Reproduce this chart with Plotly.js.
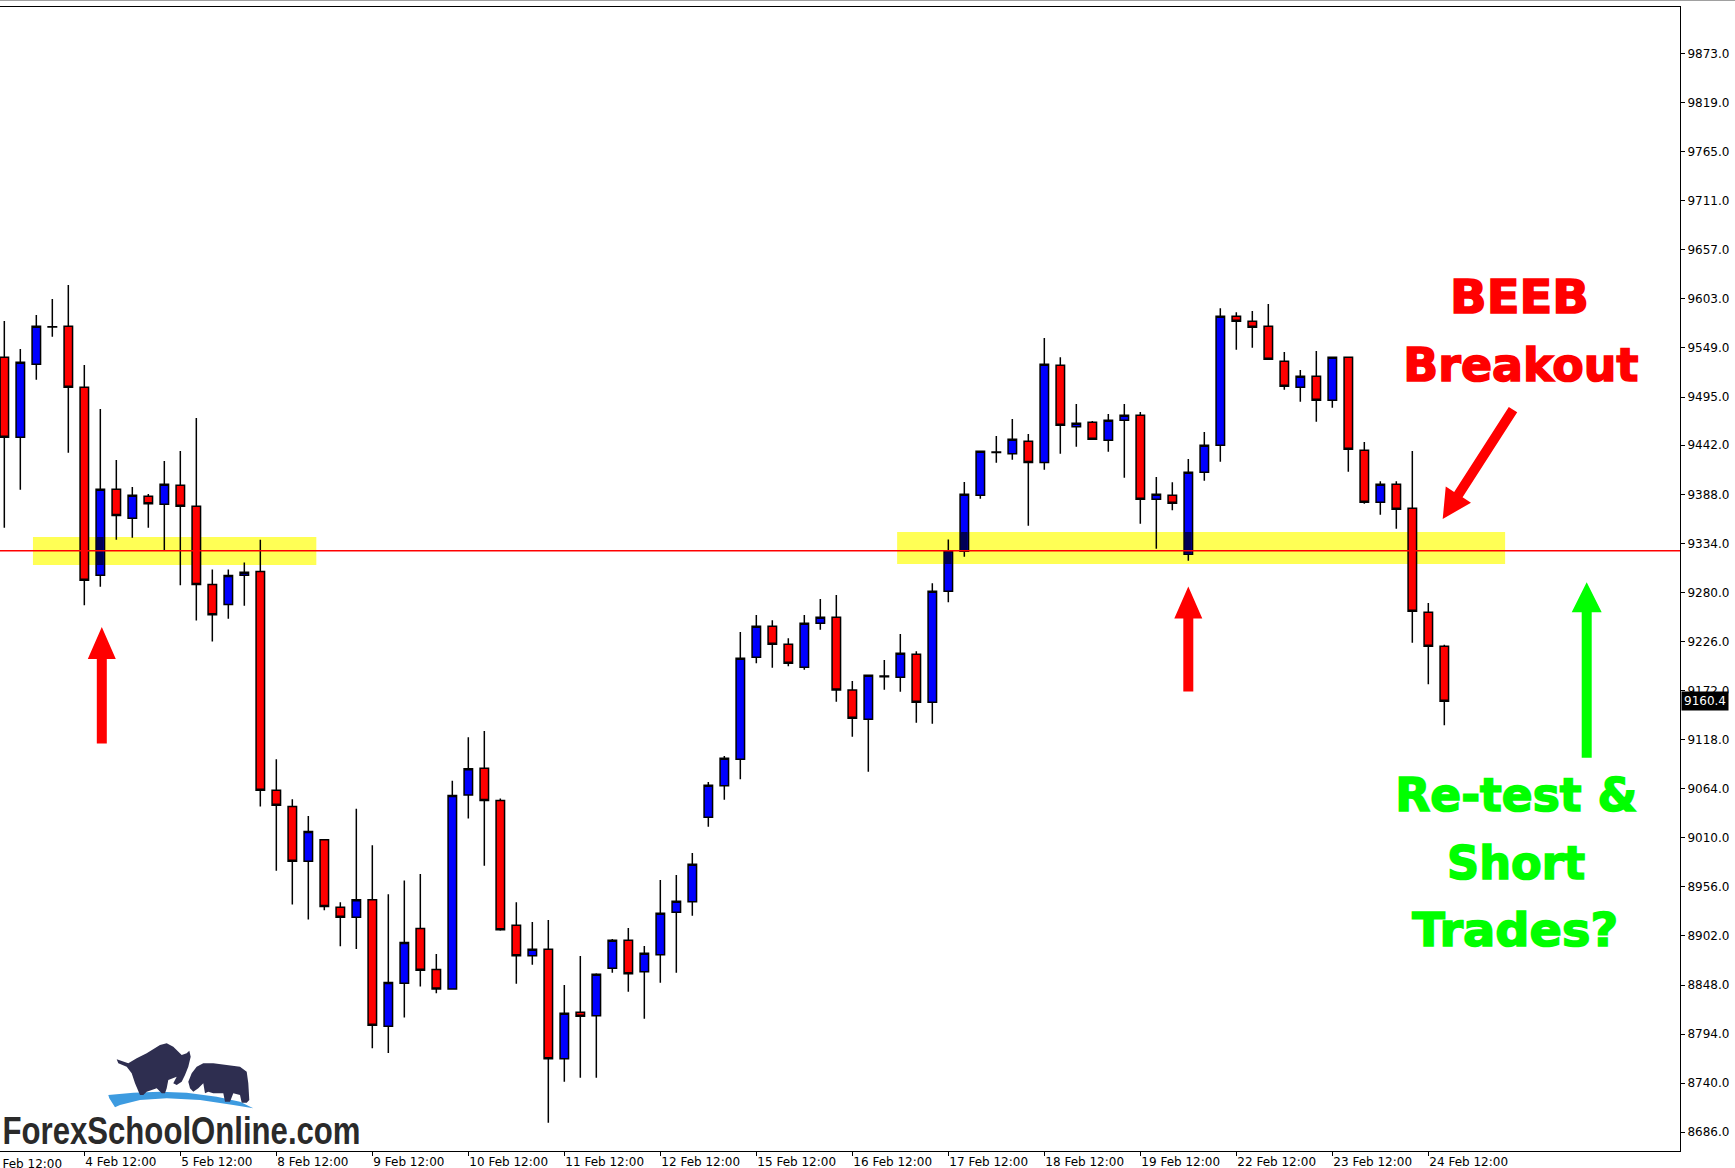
<!DOCTYPE html>
<html><head><meta charset="utf-8">
<script src="https://cdn.plot.ly/plotly-3.0.1.min.js"></script>
<style>html,body{margin:0;padding:0;background:#fff;overflow:hidden}</style>
</head><body><div id="chart" style="width:1735px;height:1168px"></div>
<script>
// ---- data (H4 candles) ----
const days = ['3 Feb','4 Feb','5 Feb','8 Feb','9 Feb','10 Feb','11 Feb','12 Feb','15 Feb','16 Feb','17 Feb','18 Feb','19 Feb','22 Feb','23 Feb','24 Feb'];
const hours = ['00:00','04:00','08:00','12:00','16:00','20:00'];

const openP = [9538.7,9450.7,9531.0,9572.5,9572.8,9505.7,9298.8,9393.5,9361.6,9385.8,
9377.0,9397.9,9374.8,9288.7,9266.7,9299.0,9303.1,9062.4,9044.4,8984.2,
9008.0,8933.5,8922.7,8942.0,8802.8,8850.0,8910.1,8865.2,8843.6,9057.0,
9086.5,9051.2,8913.7,8880.3,8887.3,8766.9,8818.0,8814.3,8866.4,8897.2,
8862.7,8881.4,8928.0,8939.7,9032.6,9067.4,9096.4,9208.6,9242.7,9222.9,
9197.6,9246.0,9252.6,9172.6,9140.4,9188.0,9186.6,9211.9,9159.1,9281.2,
9325.2,9386.9,9434.5,9432.7,9446.3,9423.1,9529.9,9462.4,9467.2,9447.4,
9469.4,9474.9,9382.5,9386.9,9321.9,9412.2,9441.9,9583.8,9578.3,9572.8,
9534.3,9505.7,9517.8,9491.4,9538.7,9436.4,9379.2,9399.0,9372.6,9258.1,9220.7];
const highP = [9578.7,9547.8,9585.3,9602.9,9618.3,9530.2,9481.8,9425.7,9396.0,9388.3,
9424.6,9435.6,9471.9,9305.3,9305.3,9313.0,9338.1,9096.5,9052.5,9034.1,
9008.5,8939.1,9042.1,9001.7,8947.8,8963.1,8970.3,8882.2,9072.7,9120.8,
9127.5,9053.4,8939.1,8917.3,8919.6,8848.0,8879.9,8861.0,8898.6,8910.7,
8891.0,8963.6,8969.1,8993.3,9071.4,9100.0,9236.4,9255.2,9249.3,9229.5,
9255.2,9272.8,9277.2,9182.5,9188.8,9205.6,9234.2,9215.2,9290.0,9338.4,
9401.5,9435.3,9452.1,9470.8,9454.3,9560.0,9538.7,9487.3,9468.6,9476.3,
9487.3,9478.5,9407.0,9401.2,9426.8,9456.5,9592.6,9588.2,9589.7,9597.4,
9544.5,9524.7,9545.6,9538.7,9538.7,9445.5,9402.3,9402.3,9435.6,9268.4,9222.5];
const lowP = [9351.2,9393.0,9514.1,9561.4,9433.7,9266.0,9286.3,9338.0,9340.2,9351.2,
9325.9,9287.8,9249.2,9225.9,9251.0,9265.4,9044.4,8973.9,8936.6,8920.0,
8930.4,8890.8,8887.6,8778.5,8773.1,8812.2,8846.4,8839.1,8843.0,9031.3,
8979.3,8907.8,8849.5,8870.4,8696.5,8741.6,8746.0,8746.0,8861.6,8840.7,
8810.9,8850.6,8861.6,8924.3,9022.2,9051.9,9074.4,9202.0,9197.2,9198.7,
9195.0,9239.0,9159.8,9121.2,9082.7,9173.0,9170.8,9136.6,9135.5,9269.1,
9319.3,9383.1,9422.7,9426.0,9353.4,9415.0,9432.7,9440.3,9448.5,9434.8,
9406.2,9355.6,9328.1,9370.4,9314.9,9402.9,9423.8,9547.1,9549.3,9536.5,
9503.0,9489.9,9467.8,9483.3,9412.8,9377.6,9365.5,9350.1,9224.7,9178.9,9133.8];
const closeP = [9450.7,9533.2,9572.8,9572.0,9505.7,9293.3,9393.5,9364.8,9386.9,9377.6,
9399.0,9374.8,9288.7,9255.5,9298.6,9302.2,9062.4,9045.8,8984.2,9017.0,
8934.4,8922.7,8942.0,8803.7,8850.9,8894.9,8864.3,8843.6,9056.5,9086.1,
9051.2,8908.9,8880.3,8887.3,8766.9,8816.9,8813.6,8859.8,8897.2,8860.5,
8882.9,8926.9,8940.1,8980.8,9067.8,9097.5,9207.5,9242.7,9222.9,9202.0,
9246.0,9252.6,9172.6,9141.5,9188.8,9187.3,9213.0,9159.1,9281.2,9325.6,
9388.0,9435.3,9434.0,9448.5,9423.1,9531.0,9463.9,9466.1,9448.5,9469.4,
9474.9,9382.5,9388.0,9378.1,9412.2,9441.9,9583.8,9578.3,9571.7,9536.5,
9506.8,9517.8,9491.4,9538.7,9437.5,9379.2,9399.0,9371.5,9259.2,9220.7,9160.4];

const xTickLabels = ['4 Feb 12:00','5 Feb 12:00','8 Feb 12:00','9 Feb 12:00','10 Feb 12:00','11 Feb 12:00','12 Feb 12:00','15 Feb 12:00','16 Feb 12:00','17 Feb 12:00','18 Feb 12:00','19 Feb 12:00','22 Feb 12:00','23 Feb 12:00','24 Feb 12:00'];
const firstCutLabel = '3 Feb 12:00';
const yTickVals = [9873,9819,9765,9711,9657,9603,9549,9495,9442,9388,9334,9280,9226,9172,9118,9064,9010,8956,8902,8848,8794,8740,8686];
const yTickText = yTickVals.map(v => v.toFixed(1));
const currentPrice = 9160.4;
const levelPrice = 9326;
const zone1 = {x0: 1.79, x1: 19.5, y0: 9310.2, y1: 9341};
const zone2 = {x0: 55.8, x1: 93.8, y0: 9311.3, y1: 9346.5};

// time categories: all day/hour slots, trimmed to the visible bars
const allSlots = [];
days.forEach(d => hours.forEach(h => allSlots.push(d + ' ' + h)));
const times = allSlots.slice(4, 4 + openP.length);

// ---- pixel helpers for decorations ----
const PW = 1680, PH = 1144, PT = 7;
function toP(x, y){ return [x / PW, 1 - (y - PT) / PH]; }
function poly(pts){
  return pts.map((p, i) => { const q = toP(p[0], p[1]); return (i ? 'L' : 'M') + q[0].toFixed(5) + ',' + q[1].toFixed(5); }).join(' ') + ' Z';
}
function arrow(tail, tip, sw, hw, hl){
  const dx = tip[0]-tail[0], dy = tip[1]-tail[1], len = Math.hypot(dx, dy);
  const ux = dx/len, uy = dy/len, nx = -uy, ny = ux;
  const bx = tip[0]-ux*hl, by = tip[1]-uy*hl;
  return poly([[tail[0]+nx*sw, tail[1]+ny*sw],[bx+nx*sw, by+ny*sw],[bx+nx*hw, by+ny*hw],tip,
               [bx-nx*hw, by-ny*hw],[bx-nx*sw, by-ny*sw],[tail[0]-nx*sw, tail[1]-ny*sw]]);
}
const bull = [[116.7,1059.3],[128.3,1063.3],[136.7,1058.3],[146.7,1053.3],[160,1045],[166.7,1043.3],[173.3,1046.7],[181.7,1055],[186.7,1053.3],[189.3,1050.7],[190.7,1056.7],[188.3,1066.7],[185,1075],[181.7,1081.7],[176.7,1085],[173.3,1083.3],[176.7,1076.7],[168.3,1080],[166.7,1088.3],[165,1093.3],[161.7,1093.3],[156.7,1088.3],[146.7,1091.7],[143.3,1095],[140,1095],[135,1083.3],[131.7,1073.3],[126.7,1066.7],[118.3,1063.3]];
const bear = [[188.3,1081.7],[191.7,1073.3],[196.7,1066.7],[203.3,1063.3],[213.3,1063.3],[226.7,1065],[240,1066.7],[246.7,1071.7],[248.3,1083.3],[249.3,1100],[246.7,1102.7],[241.7,1102.7],[240,1095],[233.3,1093.3],[230,1101.7],[225,1101.7],[223.3,1093.3],[213.3,1093.3],[208.3,1091.7],[205,1093.3],[203.3,1083.3],[198.3,1088.3],[193.3,1091.7],[190,1088.3]];
const swoosh = [[108.3,1095],[133.3,1092.7],[160,1091.7],[186.7,1092.7],[216.7,1096.7],[240,1101.7],[253.3,1108.3],[233.3,1105],[200,1100],[166.7,1098.3],[140,1100],[120,1105],[115,1107.3],[109.3,1098.3]];

const trace = {
  type: 'candlestick', x: times, open: openP, high: highP, low: lowP, close: closeP,
  increasing: {line: {color: '#000000', width: 1.5}, fillcolor: '#0000ff'},
  decreasing: {line: {color: '#000000', width: 1.5}, fillcolor: '#ff0000'},
  whiskerwidth: 0, hoverinfo: 'skip'
};

// highlighter look: the part of a bullish body inside a yellow zone turns navy
const bodyHalf = 0.21;
const navyShapes = [];
[zone1, zone2].forEach(z => {
  openP.forEach((o, i) => {
    const c = closeP[i];
    if (c <= o || i < z.x0 || i > z.x1) return;
    const lo = o > z.y0 ? o + 1 : z.y0;
    const hi = c < z.y1 ? c - 1 : z.y1;
    if (hi > lo) navyShapes.push({type: 'rect', xref: 'x', yref: 'y', x0: i - bodyHalf, x1: i + bodyHalf, y0: lo, y1: hi,
      fillcolor: '#000055', line: {width: 0}, layer: 'above'});
  });
});

const axFont = {family: 'DejaVu Sans, Verdana, sans-serif', size: 12, color: '#000'};
const bigRed = {family: 'DejaVu Sans, Arial Black, sans-serif', size: 46, color: '#ff0000', weight: 700};
const bigGreen = {family: 'DejaVu Sans, Arial Black, sans-serif', size: 46, color: '#00ff00', weight: 700};

function pAnn(text, x, y, font, extra){
  const q = toP(x, y);
  return Object.assign({text, xref: 'paper', yref: 'paper', x: q[0], y: q[1], xanchor: 'center', yanchor: 'middle', showarrow: false, font}, extra || {});
}

const layout = {
  width: 1735, height: 1168,
  margin: {l: 0, r: 55, t: 7, b: 17, pad: 0},
  paper_bgcolor: '#ffffff', plot_bgcolor: '#ffffff',
  showlegend: false, boxgap: 0.47, boxgroupgap: 0,
  xaxis: {
    type: 'category', range: [-0.27, 104.73], tickmode: 'array',
    tickvals: xTickLabels, ticktext: xTickLabels,
    ticks: 'outside', ticklen: 4, tickcolor: '#000', tickwidth: 1,
    ticklabelposition: 'outside right', tickangle: 0,
    tickfont: axFont, showgrid: false, zeroline: false,
    showline: true, linecolor: '#000', linewidth: 1, mirror: true,
    rangeslider: {visible: false}, fixedrange: true
  },
  yaxis: {
    side: 'right', range: [8665.4, 9924.2], tickmode: 'array',
    tickvals: yTickVals, ticktext: yTickText,
    ticks: 'outside', ticklen: 4, tickcolor: '#000', tickwidth: 1,
    tickfont: axFont, showgrid: false, zeroline: false,
    showline: true, linecolor: '#000', linewidth: 1, fixedrange: true
  },
  shapes: [
    {type: 'rect', xref: 'x', yref: 'y', x0: zone1.x0, x1: zone1.x1, y0: zone1.y0, y1: zone1.y1, fillcolor: '#ffff55', line: {width: 0}, layer: 'below'},
    {type: 'rect', xref: 'x', yref: 'y', x0: zone2.x0, x1: zone2.x1, y0: zone2.y0, y1: zone2.y1, fillcolor: '#ffff55', line: {width: 0}, layer: 'below'}
  ].concat(navyShapes).concat([
    {type: 'line', xref: 'paper', yref: 'y', x0: 0, x1: 1, y0: levelPrice, y1: levelPrice, line: {color: '#ff0000', width: 1.5}, layer: 'above'},
    {type: 'path', xref: 'paper', yref: 'paper', path: arrow([101.8, 743.6], [101.8, 627], 5, 14, 32), fillcolor: '#ff0000', line: {width: 0}, layer: 'above'},
    {type: 'path', xref: 'paper', yref: 'paper', path: arrow([1188.3, 691.5], [1188.3, 586.5], 5, 14, 32), fillcolor: '#ff0000', line: {width: 0}, layer: 'above'},
    {type: 'path', xref: 'paper', yref: 'paper', path: arrow([1586.7, 757.8], [1586.7, 582.3], 5, 15, 30), fillcolor: '#00ff00', line: {width: 0}, layer: 'above'},
    {type: 'path', xref: 'paper', yref: 'paper', path: arrow([1513, 409.6], [1442.7, 519], 5, 15, 29), fillcolor: '#ff0000', line: {width: 0}, layer: 'above'},
    {type: 'path', xref: 'paper', yref: 'paper', path: poly(swoosh), fillcolor: '#3d9be0', line: {width: 0}, layer: 'above'},
    {type: 'path', xref: 'paper', yref: 'paper', path: poly(bull), fillcolor: '#2e2e50', line: {width: 0}, layer: 'above'},
    {type: 'path', xref: 'paper', yref: 'paper', path: poly(bear), fillcolor: '#2e2e50', line: {width: 0}, layer: 'above'},
    {type: 'line', xref: 'paper', yref: 'paper', x0: 0, x1: 1735/PW, y0: toP(0, 0.5)[1], y1: toP(0, 0.5)[1], line: {color: '#a0a0a0', width: 1}, layer: 'above'}
  ]),
  annotations: [
    pAnn('BEEB', 1519.5, 297, bigRed),
    pAnn('Breakout', 1520.5, 365, bigRed),
    pAnn('Re-test &amp;', 1516, 794.5, bigGreen),
    pAnn('Short', 1516, 862.7, bigGreen),
    pAnn('Trades?', 1515, 930, bigGreen),
    pAnn('ForexSchoolOnline.com', 181, 1130.5, {family: 'Liberation Sans Narrow, Arial Narrow, Liberation Sans, sans-serif', size: 38, color: '#2a2a2a', weight: 700}),
    {text: String(currentPrice.toFixed(1)), xref: 'paper', yref: 'y', x: 1, y: currentPrice, xanchor: 'left', yanchor: 'middle', xshift: 1, showarrow: false, bgcolor: '#000000', borderpad: 2, font: {family: axFont.family, size: 12, color: '#ffffff'}},
    {text: firstCutLabel, xref: 'paper', yref: 'paper', x: (-11.7 + 1) / PW, y: 0, xanchor: 'left', yanchor: 'top', yshift: -4, showarrow: false, font: axFont}
  ]
};

Plotly.newPlot('chart', [trace], layout, {displayModeBar: false, staticPlot: true}).then(gd => {
  // fit big texts to the reference widths and thicken strokes
  const widths = {'BEEB': 139, 'Breakout': 235, 'Re-test &': 242, 'Short': 138, 'Trades?': 206, 'ForexSchoolOnline.com': 358};
  gd.querySelectorAll('.annotation-text').forEach(t => {
    const w = widths[t.textContent];
    if (w) {
      t.setAttribute('textLength', w);
      t.setAttribute('lengthAdjust', 'spacingAndGlyphs');
      if (t.textContent !== 'ForexSchoolOnline.com') {
        t.style.stroke = t.style.fill;
        t.style.strokeWidth = '1.6px';
      }
    }
  });
});
</script>
</body></html>
